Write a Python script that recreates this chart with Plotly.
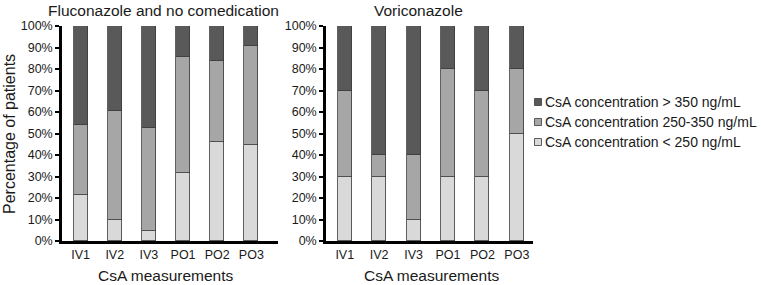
import plotly.graph_objects as go

categories = ["IV1", "IV2", "IV3", "PO1", "PO2", "PO3"]
series_names = ["CsA concentration < 250 ng/mL",
                "CsA concentration 250-350 ng/mL",
                "CsA concentration > 350 ng/mL"]
colors = ["#d9d9d9", "#a6a6a6", "#595959"]

# Fluconazole and no comedication (percent)
fluc_low = [21.5, 10.0, 4.8, 31.5, 46.0, 44.5]
fluc_mid = [32.5, 50.5, 47.7, 54.0, 37.5, 46.0]
fluc_high = [46.0, 39.5, 47.5, 14.5, 16.5, 9.5]

# Voriconazole (percent)
vori_low = [30, 30, 10, 30, 30, 50]
vori_mid = [40, 10, 30, 50, 40, 30]
vori_high = [30, 60, 60, 20, 30, 20]

panel_titles = ["Fluconazole and no comedication", "Voriconazole"]
x_title = "CsA measurements"
y_title = "Percentage of patients"
y_ticks = [0, 10, 20, 30, 40, 50, 60, 70, 80, 90, 100]
y_ticktext = [f"{v}%" for v in y_ticks]

W, H = 761, 285
FONT = "Liberation Sans, Arial, sans-serif"
TXT = "#1a1a1a"

def px(x):
    return x / W

def py(y):
    return 1 - y / H

fig = go.Figure()
panels = [(fluc_low, fluc_mid, fluc_high), (vori_low, vori_mid, vori_high)]
for i, vals in enumerate(panels):
    xa = "x" if i == 0 else "x2"
    ya = "y" if i == 0 else "y2"
    for name, v, c in zip(series_names, vals, colors):
        fig.add_trace(go.Bar(
            x=categories, y=v, name=name, xaxis=xa, yaxis=ya,
            marker=dict(color=c, line=dict(color="#3a3a3a", width=0.8)),
            width=0.41, showlegend=False, hoverinfo="skip"))

fig.update_layout(
    template="none",
    width=W, height=H, barmode="stack", bargap=0,
    margin=dict(l=0, r=0, t=0, b=0, pad=0, autoexpand=False),
    paper_bgcolor="white", plot_bgcolor="white",
    showlegend=False,
)
fig.update_layout(
    xaxis=dict(domain=[px(62), px(278)], anchor="y", range=[-0.545, 5.78]),
    yaxis=dict(domain=[py(241), py(26)], anchor="x"),
    xaxis2=dict(domain=[px(326), px(533)], anchor="y2", range=[-0.545, 5.47]),
    yaxis2=dict(domain=[py(241), py(26)], anchor="x2"),
)
fig.update_xaxes(automargin=False, showgrid=False, zeroline=False, showline=True,
                 linecolor="black", linewidth=2.5, ticks="",
                 tickfont=dict(family=FONT, size=12.5, color=TXT))
fig.update_yaxes(automargin=False, showgrid=False, zeroline=False, showline=True,
                 linecolor="black", linewidth=2.5,
                 range=[0, 100], tickmode="array",
                 tickvals=y_ticks, ticktext=y_ticktext,
                 ticks="outside", ticklen=4, tickwidth=1.5, tickcolor="black",
                 tickfont=dict(family=FONT, size=12.5, color=TXT))

ann = []
for t, cx in zip(panel_titles, [163, 419]):
    ann.append(dict(text=t, x=px(cx), y=py(10), xref="paper", yref="paper",
                    showarrow=False, xanchor="center", yanchor="middle",
                    font=dict(family=FONT, size=15.5, color=TXT)))
for cx in [165, 431]:
    ann.append(dict(text=x_title, x=px(cx), y=py(275), xref="paper", yref="paper",
                    showarrow=False, xanchor="center", yanchor="middle",
                    font=dict(family=FONT, size=15.5, color=TXT)))
ann.append(dict(text=y_title, x=px(9), y=py(134), xref="paper", yref="paper",
                showarrow=False, xanchor="center", yanchor="middle", textangle=-90,
                font=dict(family=FONT, size=16, color=TXT)))

shapes = []
leg_y = [102, 122, 142]
for yy, name, c in zip(leg_y, series_names[::-1], colors[::-1]):
    shapes.append(dict(type="rect", xref="paper", yref="paper",
                       x0=px(534.5), x1=px(541.5), y0=py(yy + 3.5), y1=py(yy - 3.5),
                       fillcolor=c, line=dict(color="#3a3a3a", width=0.8)))
    ann.append(dict(text=name, x=px(542.5), y=py(yy), xref="paper", yref="paper",
                    showarrow=False, xanchor="left", yanchor="middle",
                    font=dict(family=FONT, size=14, color=TXT)))

fig.update_layout(annotations=ann, shapes=shapes)
fig.write_html("out.html", config={"displayModeBar": False},
               post_script="document.body.style.margin='0px';")
